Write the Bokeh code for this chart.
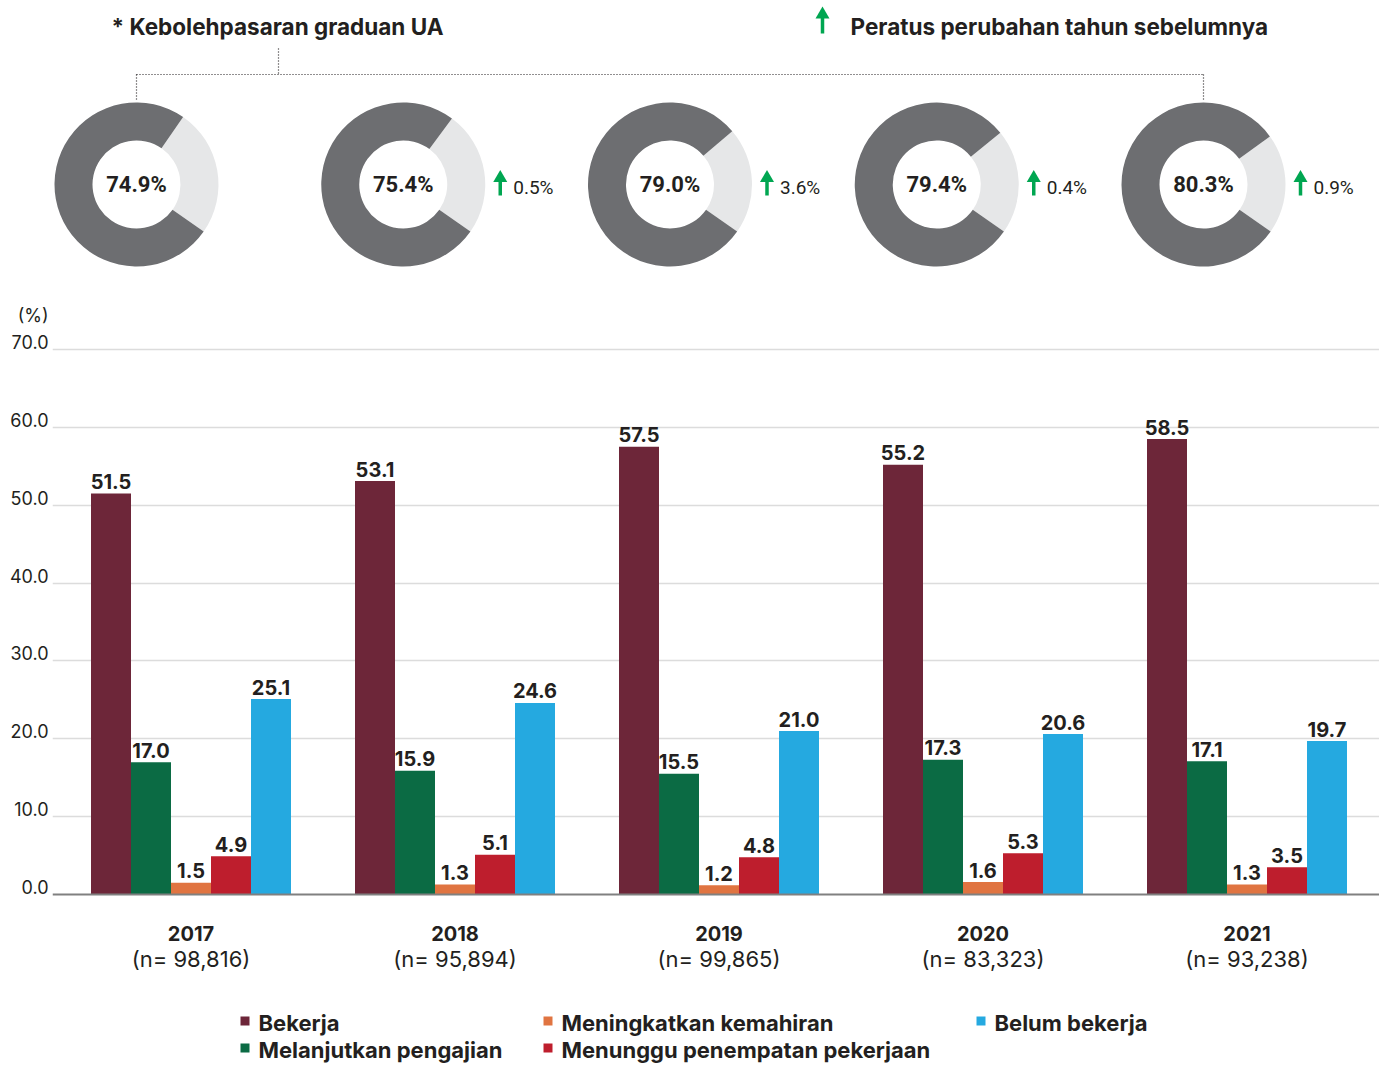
import math
from bokeh.plotting import figure
from bokeh.models import Range1d, LinearAxis, FixedTicker, Grid, Span, NumeralTickFormatter
from bokeh.layouts import column
from bokeh.embed import file_html
from bokeh.resources import INLINE
from bokeh.core.properties import value

# ---------------- data ----------------
years = ["2017", "2018", "2019", "2020", "2021"]
n_labels = ["(n= 98,816)", "(n= 95,894)", "(n= 99,865)", "(n= 83,323)", "(n= 93,238)"]
series_names = ["Bekerja", "Melanjutkan pengajian", "Meningkatkan kemahiran",
                "Menunggu penempatan pekerjaan", "Belum bekerja"]
bekerja = [51.5, 53.1, 57.5, 55.2, 58.5]
melanjutkan = [17.0, 15.9, 15.5, 17.3, 17.1]
meningkatkan = [1.5, 1.3, 1.2, 1.6, 1.3]
menunggu = [4.9, 5.1, 4.8, 5.3, 3.5]
belum = [25.1, 24.6, 21.0, 20.6, 19.7]
kebolehpasaran = [74.9, 75.4, 79.0, 79.4, 80.3]
perubahan = [None, 0.5, 3.6, 0.4, 0.9]
y_ticks = [0, 10, 20, 30, 40, 50, 60, 70]
y_unit_label = "(%)"

series_values = [bekerja, melanjutkan, meningkatkan, menunggu, belum]
series_colors = ["#6d2639", "#0b6b44", "#e07441", "#be1e2d", "#25a9e0"]

TXT = "#231f20"
GREEN = "#00a651"
MAIN_FONT = "Inter"
DONUT_FONT = "Roboto"

W = 1379
H = 1065
LEFT = 52                   # x of plot frames' left edge
# ---------------- top figure (donuts) ----------------
TOP_H = 300
DX = 266.75                 # px between donuts
X0 = 136                    # x of first donut centre


def tx(px):
    return (px - X0) / DX


def ty(py):
    return TOP_H - py


top = figure(width=W, height=TOP_H, x_range=Range1d(tx(LEFT), tx(W)),
             y_range=Range1d(0, TOP_H), toolbar_location=None,
             output_backend="svg", min_border_left=LEFT, min_border_right=0,
             min_border_top=0, min_border_bottom=0, outline_line_color=None,
             x_axis_location=None, y_axis_location=None)
top.xgrid.visible = False
top.ygrid.visible = False

START = math.radians(-35)
idx = list(range(len(years)))
light_end = [START + (100 - k) / 100 * 2 * math.pi for k in kebolehpasaran]
cy = ty(184)
top.annular_wedge(x=idx, y=[cy] * 5, inner_radius=44, outer_radius=82,
                  inner_radius_units="screen", outer_radius_units="screen",
                  start_angle=[START] * 5, end_angle=light_end,
                  fill_color="#e6e7e8", line_color=None)
top.annular_wedge(x=idx, y=[cy] * 5, inner_radius=44, outer_radius=82,
                  inner_radius_units="screen", outer_radius_units="screen",
                  start_angle=light_end, end_angle=[START + 2 * math.pi] * 5,
                  fill_color="#6d6e71", line_color=None)
top.text(x=idx, y=[cy] * 5, text=[f"{k:.1f}%" for k in kebolehpasaran],
         text_font=value(DONUT_FONT), text_font_style="bold",
         text_font_size="22px", text_color=TXT, text_align="center",
         text_baseline="middle")

# change arrows
ch_i = [i for i, c in enumerate(perubahan) if c is not None]
ch_v = [perubahan[i] for i in ch_i]
ax = [i + 97 / DX for i in ch_i]
top.segment(x0=ax, y0=[ty(180)] * len(ax), x1=ax, y1=[ty(195)] * len(ax),
            line_color=GREEN, line_width=3.5)
top.scatter(x=ax, y=[ty(177.5)] * len(ax), marker="triangle", size=14,
            fill_color=GREEN, line_color=None)
top.text(x=[i + 110 / DX for i in ch_i], y=[ty(187)] * len(ch_i),
         text=[f"{c:.1f}%" for c in ch_v], text_font=value(DONUT_FONT),
         text_font_size="19px", text_color=TXT, text_align="left",
         text_baseline="middle")

# header
top.text(x=[tx(111)], y=[ty(26)], text=["* Kebolehpasaran graduan UA"],
         text_font=value(MAIN_FONT), text_font_style="bold",
         text_font_size="22.5px", text_color=TXT, text_align="left",
         text_baseline="middle")
top.text(x=[tx(850)], y=[ty(26)], text=["Peratus perubahan tahun sebelumnya"],
         text_font=value(MAIN_FONT), text_font_style="bold",
         text_font_size="22.5px", text_color=TXT, text_align="left",
         text_baseline="middle")
top.segment(x0=[tx(822)], y0=[ty(16)], x1=[tx(822)], y1=[ty(33)],
            line_color=GREEN, line_width=3.5)
top.scatter(x=[tx(822)], y=[ty(14)], marker="triangle", size=14,
            fill_color=GREEN, line_color=None)

# dotted bracket
top.segment(x0=[tx(278), 0, 0, 4], y0=[ty(48), ty(74), ty(74), ty(74)],
            x1=[tx(278), 4, 0, 4], y1=[ty(74), ty(74), ty(101), ty(101)],
            line_color="#231f20", line_width=1.2, line_dash="1 2")

# ---------------- bottom figure (bars) ----------------
BOT_H = H - TOP_H
PX = 545 / 70               # px per percentage point
Y0 = 894                    # y of zero
GX = 264                    # px between groups
G0 = 190.5                  # x of first group centre


def bx(px):
    return (px - G0) / GX


def by(py):
    return (Y0 - py) / PX


y_start = by(H)
y_end = by(TOP_H)
bottom = figure(width=W, height=BOT_H, x_range=Range1d(bx(LEFT), bx(W)),
                y_range=Range1d(y_start, y_end), toolbar_location=None,
                output_backend="svg", min_border_left=LEFT,
                min_border_right=0, min_border_top=0, min_border_bottom=0,
                outline_line_color=None, x_axis_location=None,
                y_axis_location=None)
bottom.xgrid.visible = False
bottom.ygrid.visible = False

grid = Grid(dimension=1, ticker=FixedTicker(ticks=y_ticks[1:]),
            grid_line_color="#dcdcdc", grid_line_width=1.5)
bottom.add_layout(grid)

# tick labels sit just above their grid lines: axis on a slightly shifted range
d = 7 / PX
unit_tick = by(315) - d
bottom.extra_y_ranges = {"lab": Range1d(y_start - d, y_end - d)}
yaxis = LinearAxis(y_range_name="lab",
                   ticker=FixedTicker(ticks=y_ticks + [unit_tick]),
                   formatter=NumeralTickFormatter(format="0.0"),
                   major_label_overrides={unit_tick: y_unit_label},
                   axis_line_color=None, major_tick_line_color=None,
                   minor_tick_line_color=None, major_tick_out=0,
                   major_tick_in=0, major_label_standoff=4,
                   major_label_text_font=MAIN_FONT,
                   major_label_text_font_size="18px",
                   major_label_text_color=TXT)
bottom.add_layout(yaxis, "left")

BW = 40 / GX
for k, (name, vals, col) in enumerate(zip(series_names, series_values, series_colors)):
    xs = [i + (k - 2) * BW for i in idx]
    bottom.vbar(x=xs, top=vals, bottom=0, width=BW, fill_color=col,
                line_color=None)
    bottom.text(x=xs, y=[v + 12 / PX for v in vals],
                text=[f"{v:.1f}" for v in vals], text_font=value(MAIN_FONT),
                text_font_style="bold", text_font_size="20px",
                text_color=TXT, text_align="center",
                text_baseline="middle")

bottom.add_layout(Span(location=0, dimension="width", line_color="#808080",
                       line_width=2))

# category labels
bottom.text(x=idx, y=[by(933)] * 5, text=years, text_font=value(MAIN_FONT),
            text_font_style="bold", text_font_size="20px", text_color=TXT,
            text_align="center", text_baseline="middle")
bottom.text(x=idx, y=[by(958)] * 5, text=n_labels, text_font=value(MAIN_FONT),
            text_font_size="22px", text_color=TXT, text_align="center",
            text_baseline="middle")

# legend (manual grid)
leg_px = [240, 240, 543, 543, 976]
leg_py = [1022, 1049, 1022, 1049, 1022]
bottom.scatter(x=[bx(p + 4.5) for p in leg_px], y=[by(p - 1.5) for p in leg_py],
               marker="square", size=9, fill_color=series_colors,
               line_color=None)
bottom.text(x=[bx(p + 18) for p in leg_px], y=[by(p) for p in leg_py],
            text=series_names, text_font=value(MAIN_FONT),
            text_font_style="bold", text_font_size="22px", text_color=TXT,
            text_align="left", text_baseline="middle")

layout = column(top, bottom, spacing=0)
open("out.html", "w").write(file_html(layout, INLINE))
